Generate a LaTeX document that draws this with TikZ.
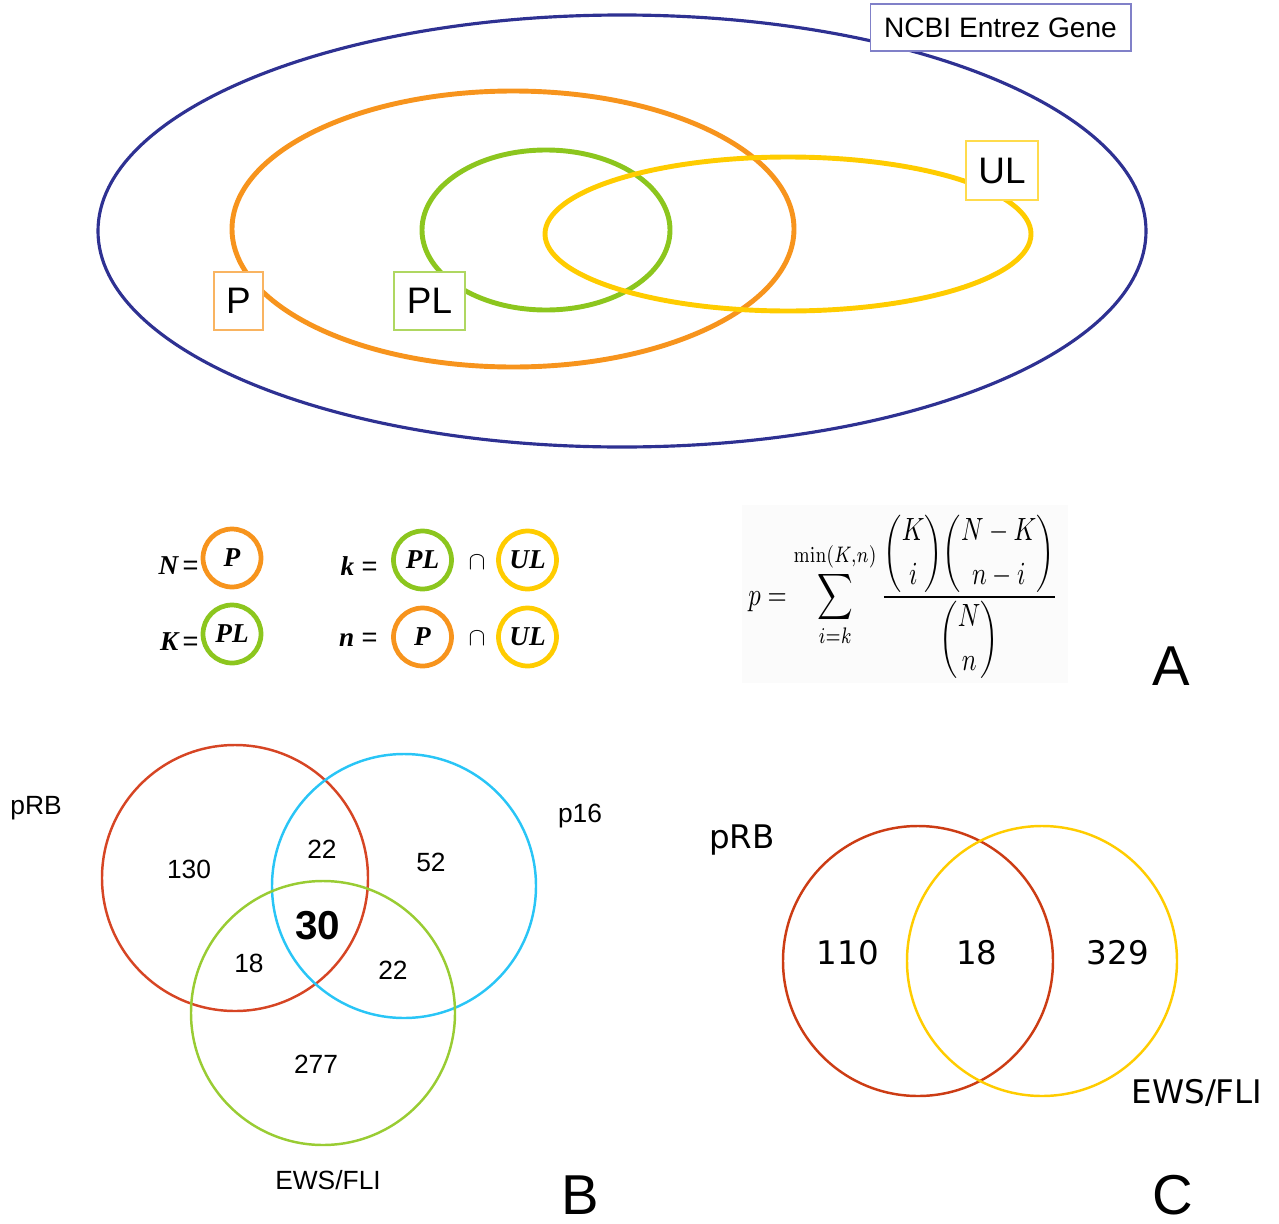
\documentclass[tikz,border=0pt]{standalone}
\usepackage{amsmath}
\usepackage{graphicx}
\usepackage[no-math]{fontspec}
\setmainfont{Liberation Sans}
\newfontfamily\tmsfont{Liberation Serif}
\newfontfamily\dvsfont{DejaVu Sans}
\newcommand\myfs[1]{\fontsize{#1}{#1}\selectfont}
\definecolor{blueE}{RGB}{46,49,146}
\definecolor{orangeP}{RGB}{247,148,29}
\definecolor{greenPL}{RGB}{140,198,30}
\definecolor{yellowUL}{RGB}{255,204,0}
\definecolor{redB}{RGB}{214,69,36}
\definecolor{cyanB}{RGB}{41,197,246}
\definecolor{greenB}{RGB}{153,204,51}
\definecolor{redC}{RGB}{204,60,20}
\definecolor{yellowC}{RGB}{255,204,0}
\definecolor{formbg}{RGB}{251,251,251}
\begin{document}
\begin{tikzpicture}[x=0.02cm,y=-0.02cm,
  setline/.style={line width=2.8pt},
  lbl/.style={draw, fill=white, line width=0.6pt, inner sep=0pt, font=\myfs{21}},
  leg/.style={circle, draw, line width=2.7pt, minimum size=1.16cm, inner sep=0pt, font=\tmsfont\bfseries\itshape\myfs{15.5}},
  legtxt/.style={font=\tmsfont\myfs{15.5}, inner sep=0pt},
  vennB/.style={line width=1.4pt},
  num/.style={font=\myfs{15}, inner sep=0pt},
  numc/.style={font=\dvsfont\myfs{18.5}, inner sep=0pt},
  panel/.style={font=\myfs{32}, inner sep=0pt}]
\useasboundingbox (0,0) rectangle (1279,1224);

% ---------- Panel A: nested ellipses ----------
\draw[blueE, line width=1.8pt] (622,231) ellipse [x radius=524, y radius=216];
\draw[orangeP, setline] (513,229) ellipse [x radius=281, y radius=138];
\draw[greenPL, setline] (546,230) ellipse [x radius=124, y radius=80];
\draw[yellowUL, setline] (788,234) ellipse [x radius=243, y radius=77];

\node[lbl, draw={rgb,255:red,128;green,128;blue,200}, minimum width=5.22cm, minimum height=0.94cm, font=\myfs{16}] (ncbi) at (1000.5,27.5) {NCBI Entrez Gene};
\node[lbl, draw=yellowUL!70, minimum width=1.44cm, minimum height=1.18cm] (ul) at (1002,170.5) {UL};
\node[lbl, draw=orangeP!70, minimum width=0.98cm, minimum height=1.16cm] (p) at (238.5,301) {P};
\node[lbl, draw=greenPL!70, minimum width=1.42cm, minimum height=1.16cm] (pl) at (429.5,301) {PL};

% ---------- legend ----------
\node[legtxt, anchor=east] (Neq) at (199,566) {\bfseries\itshape N\normalfont\,=};
\node[leg, orangeP, text=black] (lN) at (232,558) {P};
\node[legtxt, anchor=east] (Keq) at (199,642) {\bfseries\itshape K\normalfont\,=};
\node[leg, greenPL, text=black] (lK) at (232,634) {PL};

\node[legtxt, anchor=east] (keq) at (378,566) {\bfseries\itshape k\normalfont\;=};
\node[leg, greenPL, text=black] (lk1) at (422.5,560) {PL};
\node[font=\myfs{15.5}, inner sep=0pt] (cap1) at (477,562) {$\cap$};
\node[leg, yellowUL, text=black] (lk2) at (527.5,560) {UL};

\node[legtxt, anchor=east] (neq) at (378,640) {\bfseries\itshape n\normalfont\;=};
\node[leg, orangeP, text=black] (ln1) at (422.5,637) {P};
\node[font=\myfs{15.5}, inner sep=0pt] (cap2) at (477,638) {$\cap$};
\node[leg, yellowUL, text=black] (ln2) at (527.5,637) {UL};

% ---------- formula ----------
\fill[formbg] (742,505) rectangle (1068,683);
\node[inner sep=0pt] (formula) at (903,597) {\resizebox*{176pt}{93pt}{$\displaystyle p=\sum_{i=k}^{\min(K,n)}\frac{\dbinom{K}{i}\dbinom{N-K}{n-i}}{\dbinom{N}{n}}$}};

\node[panel] (A) at (1171,666) {A};

% ---------- Panel B ----------
\draw[redB, vennB] (235,878) circle [radius=133];
\draw[cyanB, vennB] (404,886) circle [radius=132];
\draw[greenB, vennB] (323,1013) circle [radius=132];

\node[num] (bprb) at (36,808) {pRB};
\node[num] (bp16) at (580,816) {p16};
\node[num] (b130) at (189,869) {130};
\node[num] (b22a) at (322,849) {22};
\node[num] (b52) at (431,862) {52};
\node[num, font=\bfseries\myfs{23}] (b30) at (318,926) {30};
\node[num] (b18) at (249,963) {18};
\node[num] (b22b) at (393,970) {22};
\node[num] (b277) at (316,1064) {277};
\node[num] (bews) at (328,1180) {EWS/FLI};
\node[panel] (B) at (580,1195) {B};

% ---------- Panel C ----------
\draw[redC, vennB] (918,961) circle [radius=135];
\draw[yellowC, vennB] (1042,961) circle [radius=135];

\node[numc] (cprb) at (742,840) {pRB};
\node[numc] (c110) at (848,953) {110};
\node[numc] (c18) at (977,953) {18};
\node[numc] (c329) at (1118,953) {329};
\node[numc] (cews) at (1197,1093) {EWS/FLI};
\node[panel] (C) at (1173,1195) {C};
\end{tikzpicture}
\end{document}
